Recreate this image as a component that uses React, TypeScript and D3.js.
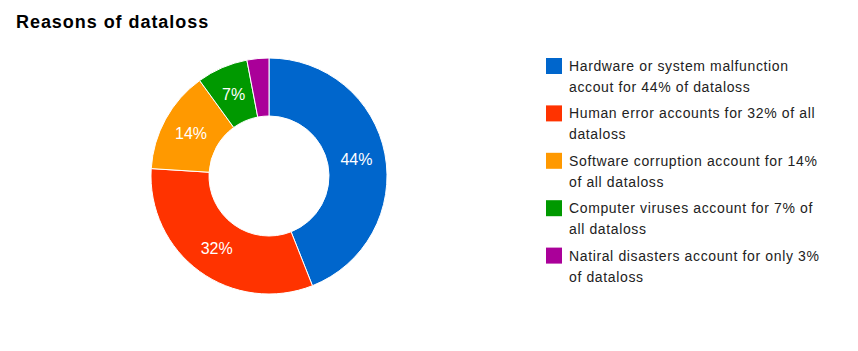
import { useEffect, useRef } from "react"
import * as d3 from "d3"

const categories = [
  "Hardware or system malfunction accout for 44% of dataloss",
  "Human error accounts for 32% of all dataloss",
  "Software corruption account for 14% of all dataloss",
  "Computer viruses account for 7% of all dataloss",
  "Natiral disasters account for only 3% of dataloss",
]
const values = [44, 32, 14, 7, 3]
const legendLines = [
  ["Hardware or system malfunction", "accout for 44% of dataloss"],
  ["Human error accounts for 32% of all", "dataloss"],
  ["Software corruption account for 14%", "of all dataloss"],
  ["Computer viruses account for 7% of", "all dataloss"],
  ["Natiral disasters account for only 3%", "of dataloss"],
]
const colours = ["#0066cc", "#ff3300", "#ff9900", "#009900", "#aa0099"]

const width = 858
const height = 351

const App = () => {
  const ref = useRef<SVGSVGElement>(null)

  useEffect(() => {
    const svg = d3.select(ref.current)
    svg.selectAll("*").remove()

    const font = "Arial, 'Liberation Sans', sans-serif"
    const cx = 269
    const cy = 176
    const outer = 118
    const inner = 60

    svg
      .append("text")
      .attr("x", 16)
      .attr("y", 28)
      .attr("font-family", font)
      .attr("font-weight", "bold")
      .attr("font-size", 18)
      .attr("letter-spacing", 0.95)
      .attr("fill", "#000")
      .text("Reasons of dataloss")

    const colour = d3.scaleOrdinal<string, string>().domain(categories).range(colours)
    const pie = d3
      .pie<number>()
      .sort(null)
      .value((d) => d)
    const arc = d3.arc<d3.PieArcDatum<number>>().innerRadius(inner).outerRadius(outer)
    const pieData = pie(values)

    const chart = svg.append("g").attr("transform", `translate(${cx}, ${cy})`)

    chart
      .selectAll("path")
      .data(pieData)
      .join("path")
      .attr("d", arc)
      .attr("fill", (d, i) => colour(categories[i]))
      .attr("stroke", "#fff")
      .attr("stroke-width", 1)

    chart
      .selectAll("text")
      .data(pieData.filter((d) => d.value >= 5))
      .join("text")
      .attr("transform", (d) => `translate(${arc.centroid(d)})`)
      .attr("font-family", font)
      .attr("text-anchor", "middle")
      .attr("dominant-baseline", "central")
      .attr("font-size", 16)
      .attr("fill", "#fff")
      .text((d) => `${d.value}%`)

    const legend = svg
      .append("g")
      .selectAll("g")
      .data(legendLines)
      .join("g")
      .attr("transform", (d, i) => `translate(546, ${58 + i * 47.4})`)

    legend
      .append("rect")
      .attr("width", 16)
      .attr("height", 16)
      .attr("fill", (d, i) => colours[i])

    legend
      .selectAll("text")
      .data((d) => d)
      .join("text")
      .attr("x", 23)
      .attr("y", (d, j) => 13 + j * 21)
      .attr("font-family", font)
      .attr("font-size", 14)
      .attr("letter-spacing", 0.63)
      .attr("fill", "#222")
      .text((d) => d)
  }, [])

  return (
    <svg
      ref={ref}
      width={width}
      height={height}
      viewBox={`0 0 ${width} ${height}`}
      style={{ position: "absolute", left: 0, top: 0 }}
    />
  )
}

export default App
